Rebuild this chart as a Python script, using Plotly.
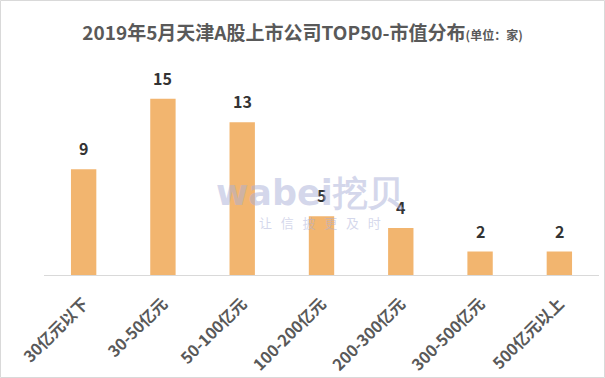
import plotly.graph_objects as go

categories = ["30亿元以下", "30-50亿元", "50-100亿元", "100-200亿元", "200-300亿元", "300-500亿元", "500亿元以上"]
counts = [9, 15, 13, 5, 4, 2, 2]

FONT = "Noto Sans CJK SC"
W, H = 605, 378
L, R, T, B = 44, 6, 87, 103
pw = W - L - R
ph = H - T - B

fig = go.Figure()
fig.add_trace(go.Bar(
    x=categories, y=counts,
    marker=dict(color="#F2B56F", line=dict(width=0)),
    hoverinfo="skip",
))

for c, v in zip(categories, counts):
    fig.add_annotation(x=c, y=v, text=f"<b>{v}</b>", showarrow=False,
                       yanchor="bottom", yshift=7,
                       font=dict(family=FONT, size=16, color="#333333"))

# watermark
fig.add_annotation(xref="paper", yref="paper", x=(310 - L) / pw, y=(T + ph - 193) / ph,
                   xanchor="center", yanchor="middle",
                   text="<b>wabei挖贝</b>", showarrow=False,
                   font=dict(family="DejaVu Sans", size=35, color="rgba(170,175,215,0.5)"))
fig.add_annotation(xref="paper", yref="paper", x=(320 - L) / pw, y=(T + ph - 222) / ph,
                   xanchor="center", yanchor="middle",
                   text="让   信   披   更   及   时", showarrow=False,
                   font=dict(family=FONT, size=13, color="rgba(170,175,215,0.5)"))

# border
fig.add_shape(type="rect", xref="paper", yref="paper",
              x0=(0.5 - L) / pw, x1=(W - 0.5 - L) / pw,
              y0=(T + ph - (H - 0.5)) / ph, y1=(T + ph - 0.5) / ph,
              line=dict(color="#D9D9D9", width=1))

fig.update_layout(
    width=W, height=H,
    margin=dict(l=L, r=R, t=T, b=B, autoexpand=False),
    paper_bgcolor="white", plot_bgcolor="white",
    bargap=0.68,
    showlegend=False,
    title=dict(
        text="<b>2019年5月天津A股上市公司TOP50-市值分布</b><span style='font-size:12px'><b>(单位：家)</b></span>",
        x=0.5, xanchor="center", y=1 - 33 / H, yanchor="middle",
        font=dict(family=FONT, size=19, color="#595959"),
    ),
    xaxis=dict(
        automargin=False,
        showline=True, linecolor="#D9D9D9", linewidth=1,
        ticks="outside", ticklen=12, tickcolor="rgba(0,0,0,0)", tickangle=-45,
        tickfont=dict(family=FONT, size=16, color="#595959", weight="bold"),
        showgrid=False,
    ),
    yaxis=dict(range=[0, 16], visible=False, showgrid=False, zeroline=False),
)

fig.write_html("out.html", config={"displayModeBar": False},
               post_script="document.body.style.margin='0px';")
